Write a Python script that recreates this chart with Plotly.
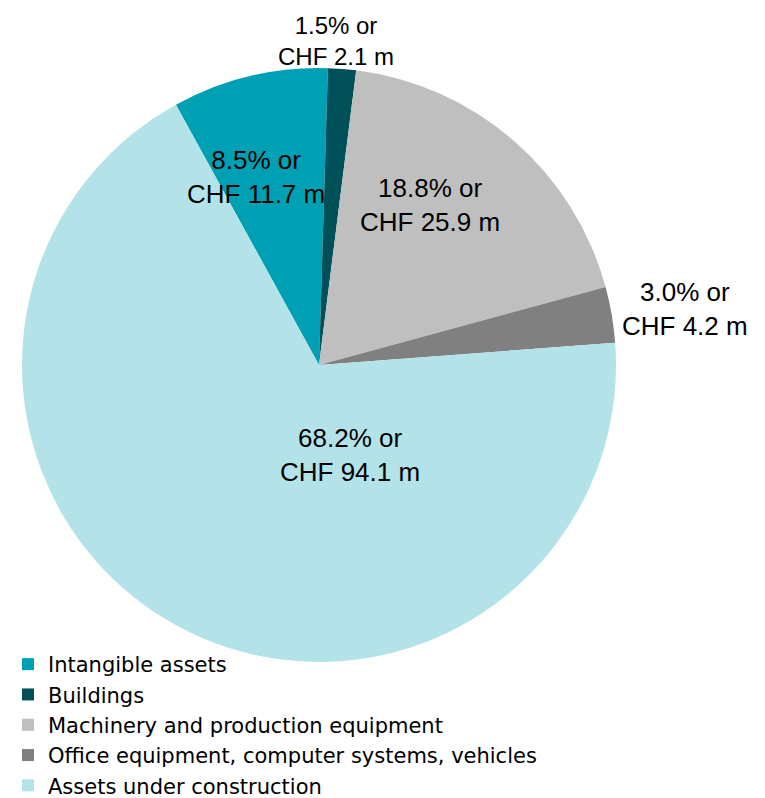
import math
import plotly.graph_objects as go

categories = [
    "Intangible assets",
    "Buildings",
    "Machinery and production equipment",
    "Office equipment, computer systems, vehicles",
    "Assets under construction",
]
values_chf_m = [11.7, 2.1, 25.9, 4.2, 94.1]
shares_pct = [8.5, 1.5, 18.8, 3.0, 68.2]
colors = ["#00A0B4", "#005059", "#BFBFBF", "#808080", "#B3E3E9"]

# label placement: radius as fraction of pie radius, angle nudge from slice middle (deg)
label_r = [0.667, 1.091, 0.656, 1.246, 0.32]
label_nudge = [-5.0, -1.5, -6.3, 1.0, -47.5]
label_size = [26, 24, 26, 26, 26]

W, H = 765, 798
# the page adds an 8px body margin, so pie centre is offset accordingly
cx_px, cy_px, R = 311, 357, 297
start_angle = -28.8

fig = go.Figure()
fig.add_trace(go.Pie(
    labels=categories,
    values=values_chf_m,
    textinfo="none",
    marker=dict(colors=colors, line=dict(width=0)),
    sort=False,
    direction="clockwise",
    rotation=start_angle,
    domain=dict(x=[(cx_px - R) / W, (cx_px + R) / W],
                y=[(H - cy_px - R) / H, (H - cy_px + R) / H]),
    hoverinfo="label+value+percent",
))

total = sum(values_chf_m)
acc = 0.0
for v, p, rf, nd, fs in zip(values_chf_m, shares_pct, label_r, label_nudge, label_size):
    mid = start_angle + 360 * (acc + v / 2) / total + nd
    acc += v
    a = math.radians(mid)
    fig.add_annotation(
        x=(cx_px + rf * R * math.sin(a)) / W,
        y=(H - cy_px + rf * R * math.cos(a)) / H,
        xref="paper", yref="paper",
        text=f"{p:.1f}% or<br>CHF {v:.1f} m",
        showarrow=False,
        xanchor="center", yanchor="middle",
        font=dict(family="Liberation Sans, Arial", size=fs, color="black"),
    )

fig.update_layout(
    width=W,
    height=H,
    margin=dict(l=0, r=0, t=0, b=0),
    paper_bgcolor="white",
    plot_bgcolor="white",
    showlegend=True,
    legend=dict(
        x=0.0, y=0.0, xanchor="left", yanchor="bottom",
        font=dict(family="DejaVu Sans, Verdana", size=21, color="black"),
        itemwidth=30,
        bgcolor="rgba(0,0,0,0)",
    ),
)

fig.write_html("out.html")
